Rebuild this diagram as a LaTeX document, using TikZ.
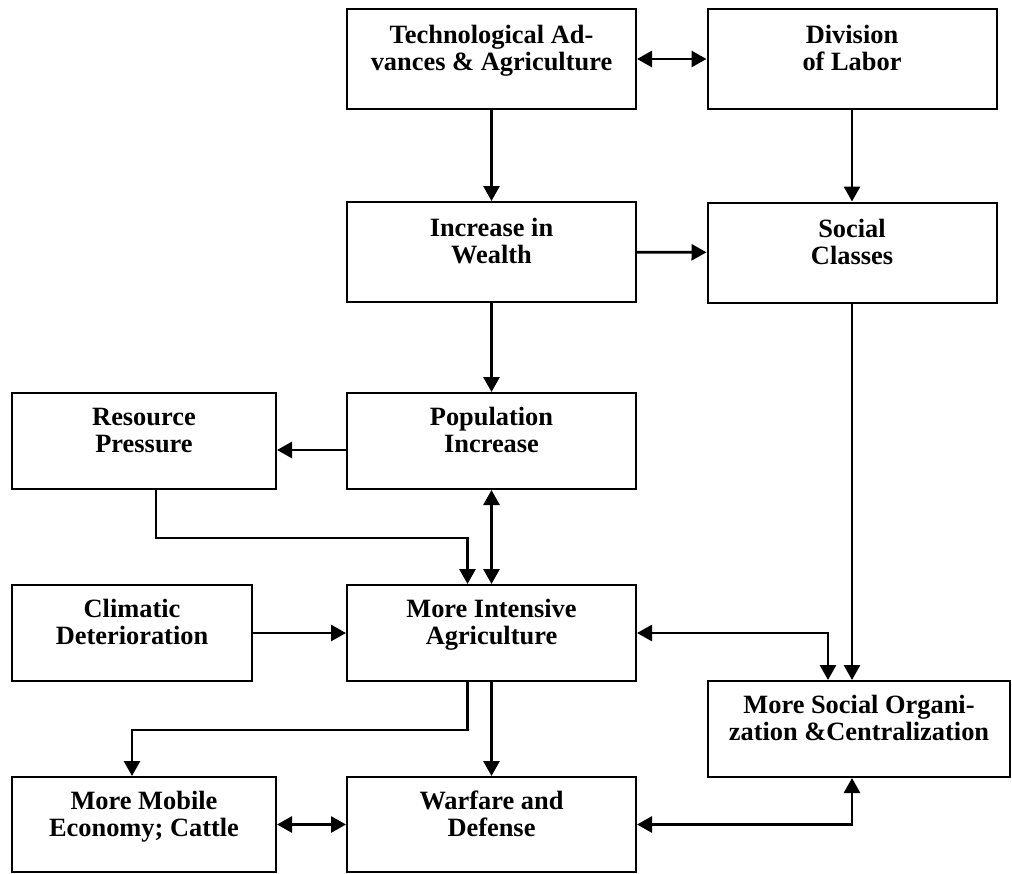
\documentclass[tikz,border=0pt]{standalone}
\usepackage{fontspec}
\setmainfont{Liberation Serif}
\usetikzlibrary{arrows.meta}
\begin{document}
\begin{tikzpicture}[x=0.5pt,y=-0.5pt,line cap=butt,line join=miter,>={Triangle[length=7.5pt,width=8pt]},
    box/.style={draw,line width=1pt,inner sep=0pt,align=center,text depth=11pt,
        font=\fontsize{13.2}{13.6}\selectfont\bfseries},
    mid/.style={box,minimum width=144.5pt,minimum height=50pt},
    side/.style={box,minimum width=132pt,minimum height=48pt},
    link/.style={line width=1.4pt}]
	\useasboundingbox (0,0) rectangle (1012,873);
	% top two rows
	\node[mid] (tech) at (491.5,59) {Technological Ad-\\vances \& Agriculture};
	\node[mid] (div) at (852,59) {Division\\of Labor};
	\node[mid] (wealth) at (491.5,252) {Increase in\\Wealth};
	\node[mid] (social) at (852,252.5) {Social\\Classes};
	% middle rows
	\node[side] (resource) at (144,441) {Resource\\Pressure};
	\node[mid,minimum height=48pt] (pop) at (491.5,441) {Population\\Increase};
	\node[side,minimum width=120pt] (clim) at (132,633) {Climatic\\Deterioration};
	\node[mid,minimum height=48pt] (intag) at (491.5,633) {More Intensive\\Agriculture};
	\node[box,minimum width=151pt,minimum height=48pt] (socorg) at (859,729) {More Social Organi-\\zation \&Centralization};
	% bottom row
	\node[side,minimum height=47.5pt] (mobile) at (144,824.5) {More Mobile\\Economy; Cattle};
	\node[mid,minimum height=47.5pt] (war) at (491.5,824.5) {Warfare and\\Defense};
	% connectors
	\draw[link,<->] (tech) -- (div);
	\draw[link,->] (tech) -- (wealth);
	\draw[link,->] (div) -- (social);
	\draw[link,->] (wealth) -- (social);
	\draw[link,->] (wealth) -- (pop);
	\draw[link,->] ([yshift=-4.5pt]pop.west) -- ([yshift=-4.5pt]resource.east);
	\draw[link,<->] (pop) -- (intag);
	\draw[link,->] ([xshift=6pt]resource.south) -- ++(0,-24pt) -| ([xshift=-12pt]intag.north);
	\draw[link,->] (clim) -- (intag);
	\draw[link,<->] (intag.east) -| ([xshift=-15.5pt]socorg.north);
	\draw[link,->] (social.south) -- (social.south |- socorg.north);
	\draw[link,->] (intag) -- (war);
	\draw[link,->] ([xshift=-12pt]intag.south) -- ++(0,-24pt) -| ([xshift=-6pt]mobile.north);
	\draw[link,<->] (mobile) -- (war);
	\draw[link,<->] (war.east) -| ([xshift=-3.5pt]socorg.south);
\end{tikzpicture}
\end{document}
